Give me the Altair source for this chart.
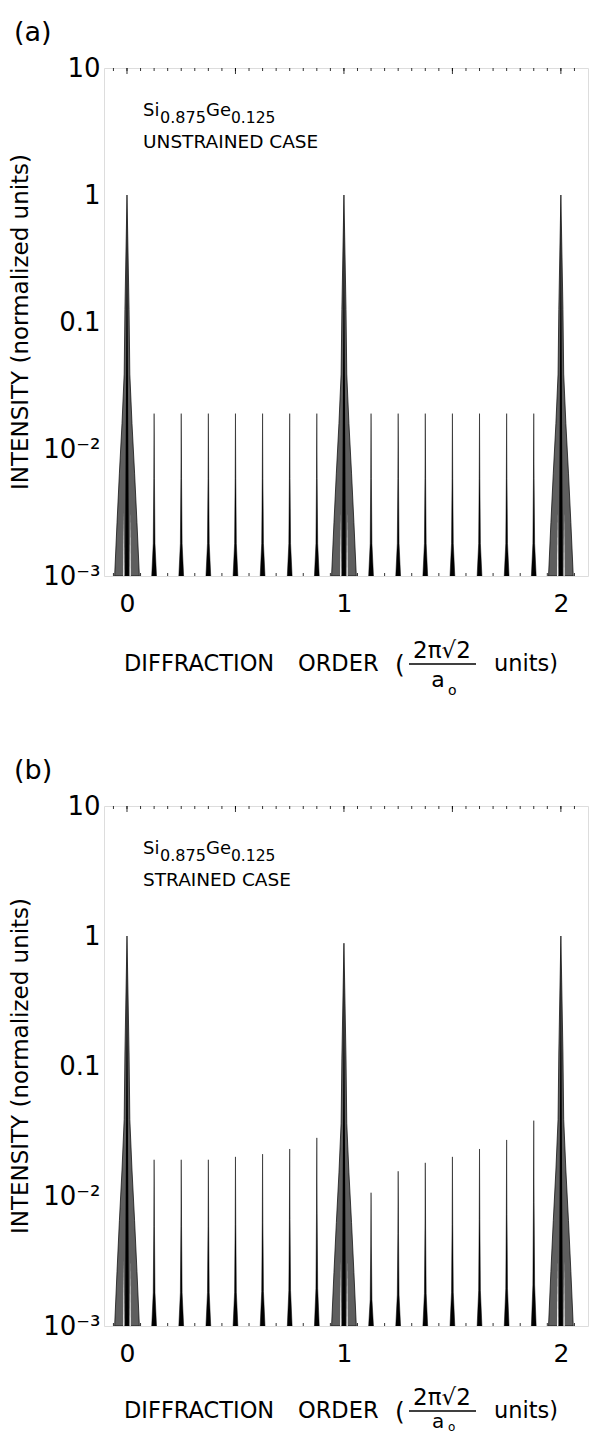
import altair as alt
import numpy as np
import pandas as pd

FONT = "DejaVu Sans"

# ---------------- data ----------------
main_pos = [0.0, 1.0, 2.0]
main_h_a = [1.0, 1.0, 1.0]
main_h_b = [1.0, 0.88, 1.0]

sat_pos = [0.125, 0.25, 0.375, 0.5, 0.625, 0.75, 0.875,
           1.125, 1.25, 1.375, 1.5, 1.625, 1.75, 1.875]
sat_h_a = [0.019, 0.019, 0.019, 0.019, 0.019, 0.019, 0.019,
           0.019, 0.019, 0.019, 0.019, 0.019, 0.019, 0.019]
sat_h_b = [0.019, 0.019, 0.019, 0.020, 0.021, 0.023, 0.028,
           0.0106, 0.0155, 0.018, 0.020, 0.023, 0.027, 0.038]

# peak profiles (offset in diffraction-order units, fraction of log height)
main_dx = [-0.057, -0.046, -0.035, -0.023, -0.013, -0.0095, 0.0,
           0.0095, 0.013, 0.023, 0.035, 0.046, 0.057]
main_f = [0.0, 0.14, 0.27, 0.40, 0.53, 0.70, 1.0,
          0.70, 0.53, 0.40, 0.27, 0.14, 0.0]
spike_dx = [-0.009, -0.004, 0.0, 0.004, 0.009]
spike_f = [0.0, 0.55, 1.0, 0.55, 0.0]
slit_dx = [-0.0025, 0.0, 0.0025]
slit_f = [0.0, 0.17, 0.0]
slit_off = [-0.015, 0.015]
sat_dx = [-0.011, -0.004, -0.0015, 0.0, 0.0015, 0.004, 0.011]
sat_f = [0.0, 0.2, 0.6, 1.0, 0.6, 0.2, 0.0]

x_ticks = [0, 1, 2]
y_ticks = [0.001, 0.01, 0.1, 1, 10]
minor_ticks = [-0.0625 + 0.0625 * i for i in range(35)]
major_ticks = [0.0, 0.5, 1.0, 1.5, 2.0]

W = 484
XDOM = [-0.106, 2.125]


def profile(centers, heights, dxs, fs, tag):
    rows = []
    for i, (c, h) in enumerate(zip(centers, heights)):
        L = np.log10(h) + 3.0
        for dx, f in zip(dxs, fs):
            rows.append({"x": c + dx, "y": 10 ** (-3.0 + f * L), "base": 0.001,
                         "pk": f"{tag}{i}"})
    return pd.DataFrame(rows)


one = pd.DataFrame({"k": [0]})


def txt(s, x, y, size, align="left", baseline="alphabetic", angle=0):
    kw = dict(text=s, font=FONT, fontSize=size, align=align, baseline=baseline,
              color="black")
    if angle:
        kw["angle"] = angle
    return alt.Chart(one).mark_text(**kw).encode(x=alt.value(x), y=alt.value(y))


def panel(main_h, sat_h, letter, case_text, H, T, frac, anchor):
    xs = alt.Scale(domain=XDOM, nice=False, zero=False)
    ys = alt.Scale(type="log", domain=[0.001, 10], nice=False)
    xaxis = alt.Axis(values=x_ticks, labelFont=FONT, labelFontSize=25,
                     labelPadding=15, ticks=False, domain=False, grid=False,
                     title=None, labelColor="black")
    yaxis = alt.Axis(values=y_ticks, labelFont=FONT, labelFontSize=26,
                     labelPadding=4, ticks=False, domain=False, grid=False,
                     title=None, labelColor="black",
                     labelExpr="datum.value >= 9 ? '10' : datum.value >= 0.9 ? '1' : "
                               "datum.value >= 0.09 ? '0.1' : datum.value >= 0.009 ? "
                               "'10\u207b\u00b2' : '10\u207b\u00b3'")
    xenc = alt.X("x:Q", scale=xs, axis=xaxis)
    yenc = alt.Y("y:Q", scale=ys, axis=yaxis)

    env = alt.Chart(profile(main_pos, main_h, main_dx, main_f, "m")).mark_area(
        color="#5e5e5e", stroke="black", strokeWidth=0.7, clip=True
    ).encode(x=xenc, y=yenc, y2="base:Q", detail="pk:N")
    spike = alt.Chart(profile(main_pos, main_h, spike_dx, spike_f, "s")).mark_area(
        color="black", clip=True
    ).encode(x=xenc, y=yenc, y2="base:Q", detail="pk:N")
    slit_c = [c + o for c in main_pos for o in slit_off]
    slits = alt.Chart(profile(slit_c, [1.0] * len(slit_c), slit_dx, slit_f, "w")).mark_area(
        color="white", clip=True
    ).encode(x=xenc, y=yenc, y2="base:Q", detail="pk:N")
    sats = alt.Chart(profile(sat_pos, sat_h, sat_dx, sat_f, "t")).mark_area(
        color="black", stroke="black", strokeWidth=0.5, clip=True
    ).encode(x=xenc, y=yenc, y2="base:Q", detail="pk:N")

    tmin = pd.DataFrame({"x": minor_ticks})
    tmaj = pd.DataFrame({"x": major_ticks})
    ticks = [
        alt.Chart(tmin).mark_rule(color="black", strokeWidth=0.8).encode(
            x=xenc, y=alt.value(0), y2=alt.value(3)),
        alt.Chart(tmaj).mark_rule(color="black", strokeWidth=0.8).encode(
            x=xenc, y=alt.value(0), y2=alt.value(6)),
        alt.Chart(tmin).mark_rule(color="black", strokeWidth=0.8).encode(
            x=xenc, y=alt.value(H), y2=alt.value(H - 3)),
        alt.Chart(tmaj).mark_rule(color="black", strokeWidth=0.8).encode(
            x=xenc, y=alt.value(H), y2=alt.value(H - 6)),
    ]

    num_dy, bar_dy, a_dy, o_dy, a_fs, o_fs = frac
    texts = [
        txt(letter, -90, -27, 27),
        txt("Si", 39, 48, 18),
        txt("0.875", 56, 55, 16),
        txt("Ge", 102, 48, 18),
        txt("0.125", 127, 55, 15.5),
        txt(case_text, 39, 80, 18.5),
        txt("INTENSITY   (normalized   units)", -76.5, H / 2, 23,
            align="center", angle=270),
        txt("DIFFRACTION", 20, H + T, 22.5),
        txt("ORDER", 194, H + T, 22.5),
        txt("(", 291, H + T + 2, 25),
        txt("2\u03c0\u221a2", 338, H + T + num_dy, 23, align="center"),
        txt("a", 334, H + T + a_dy, a_fs, align="center"),
        txt("o", 344, H + T + o_dy, o_fs),
        txt("units)", 390, H + T, 22.5),
    ]
    bar = alt.Chart(one).mark_rule(color="black", strokeWidth=1.5).encode(
        x=alt.value(305), x2=alt.value(372), y=alt.value(H + T + bar_dy))
    layers = [env, spike, slits, sats, *ticks, *texts, bar]
    if anchor:
        # invisible corner marker fixing the figure's top-left extent
        layers.append(alt.Chart(one).mark_rule(strokeOpacity=0, color="white").encode(
            x=alt.value(-95), x2=alt.value(-94), y=alt.value(-59)))
    return alt.layer(*layers).properties(width=W, height=H)


top = panel(main_h_a, sat_h_a, "(a)", "UNSTRAINED  CASE", 508, 95,
            (-13, -7, 16, 24, 22, 14), True)
bottom = panel(main_h_b, sat_h_b, "(b)", "STRAINED  CASE", 520, 92,
               (-13, -7, 10, 13, 20, 12), False)

chart = alt.vconcat(top, bottom, spacing=230, bounds="flush").properties(
    padding={"left": 0, "top": 0, "right": 0, "bottom": 0}
).configure_view(stroke="black", strokeWidth=1.3).configure(background="white")

chart.save("out.html", embed_options={"renderer": "svg", "actions": False})
